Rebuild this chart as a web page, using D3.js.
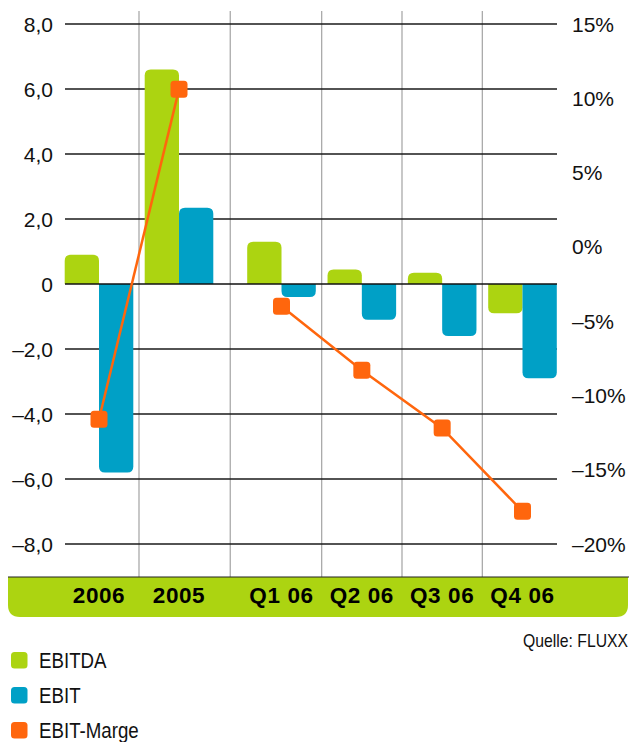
<!DOCTYPE html>
<html>
<head>
<meta charset="utf-8">
<script src="https://cdn.jsdelivr.net/npm/d3@7"></script>
<style>
  html, body { margin: 0; padding: 0; background: #fff; }
  svg { display: block; }
</style>
</head>
<body>
<svg id="chart" width="629" height="742"></svg>
<script>
// ---- data ----
const categories = ["2006", "2005", "Q1 06", "Q2 06", "Q3 06", "Q4 06"];
const periodType = ["year", "year", "quarter", "quarter", "quarter", "quarter"];
const ebitda = [0.9, 6.6, 1.3, 0.45, 0.35, -0.9];
const ebit = [-5.8, 2.35, -0.4, -1.1, -1.6, -2.9];
const ebitMarge = [-11.6, 10.6, -4.0, -8.3, -12.2, -17.8];
const leftTicks = [-8, -6, -4, -2, 0, 2, 4, 6, 8];
const rightTicks = [-20, -15, -10, -5, 0, 5, 10, 15];
const seriesNames = ["EBITDA", "EBIT", "EBIT-Marge"];
const source = "Quelle: FLUXX";

// ---- styles ----
const GREEN = "#acd411", BLUE = "#00a0c6", ORANGE = "#ff660d";
const FONT = "'Liberation Sans', Arial, Helvetica, sans-serif";
const NARROW = "'Liberation Sans Narrow', 'Liberation Sans', Arial, sans-serif";
const svg = d3.select("#chart");

const plotLeft = 65, plotRight = 557, plotTop = 24, plotBottom = 544;
const y = d3.scaleLinear().domain([-8, 8]).range([plotBottom, plotTop]);
const yR = d3.scaleLinear().domain([-20, 15]).range([plotBottom, plotTop]);
// group centres: years, then a wider gap, then the quarters
const x = d3.scaleLinear().domain([0, 1, 2, 5]).range([99, 179, 281.5, 522.5]);
const barW = 34.3;

// vertical separators
const seps = d3.range(categories.length - 1).map(i => x(i + 0.5));
svg.append("g").selectAll("line").data(seps).join("line")
  .attr("x1", d => d).attr("x2", d => d)
  .attr("y1", 11).attr("y2", 577)
  .attr("stroke", "#aaaaaa").attr("stroke-width", 1.3);

// horizontal gridlines
svg.append("g").selectAll("line").data(leftTicks.filter(d => d !== 0)).join("line")
  .attr("x1", plotLeft).attr("x2", plotRight)
  .attr("y1", d => y(d)).attr("y2", d => y(d))
  .attr("stroke", "#1a1a1a").attr("stroke-width", 1.4);

// left axis labels
const fmtL = d => d === 0 ? "0" : (d < 0 ? "\u2013" : "") + Math.abs(d).toFixed(1).replace(".", ",");
svg.append("g").selectAll("text").data(leftTicks).join("text")
  .attr("x", 53).attr("y", d => y(d)).attr("dy", "0.36em")
  .attr("text-anchor", "end")
  .style("font-family", FONT).attr("font-size", 21)
  .attr("fill", "#111").text(fmtL);

// right axis labels
const fmtR = d => (d < 0 ? "\u2013" : "") + Math.abs(d) + "%";
svg.append("g").selectAll("text").data(rightTicks).join("text")
  .attr("x", 572).attr("y", d => yR(d)).attr("dy", "0.36em")
  .attr("text-anchor", "start")
  .style("font-family", FONT).attr("font-size", 21)
  .attr("fill", "#111").text(fmtR);

// bars with rounded far end
function barPath(x0, w, v) {
  const y0 = y(0), y1 = y(v);
  const h = Math.abs(y1 - y0);
  const r = Math.min(6, h, w / 2);
  if (v >= 0) {
    return `M${x0},${y0} V${y1 + r} Q${x0},${y1} ${x0 + r},${y1} H${x0 + w - r} Q${x0 + w},${y1} ${x0 + w},${y1 + r} V${y0} Z`;
  } else {
    return `M${x0},${y0} V${y1 - r} Q${x0},${y1} ${x0 + r},${y1} H${x0 + w - r} Q${x0 + w},${y1} ${x0 + w},${y1 - r} V${y0} Z`;
  }
}
svg.append("g").selectAll("path").data(ebitda).join("path")
  .attr("d", (d, i) => barPath(x(i) - barW, barW, d)).attr("fill", GREEN);
svg.append("g").selectAll("path").data(ebit).join("path")
  .attr("d", (d, i) => barPath(x(i), barW, d)).attr("fill", BLUE);

// zero line
svg.append("line").attr("x1", plotLeft).attr("x2", plotRight)
  .attr("y1", y(0)).attr("y2", y(0)).attr("stroke", "#111").attr("stroke-width", 1.4);

// EBIT-Marge line: separate segments for years and quarters
const pts = ebitMarge.map((v, i) => ({ i, v, t: periodType[i] }));
const groups = d3.groups(pts, d => d.t).map(g => g[1]);
const line = d3.line().x(d => x(d.i)).y(d => yR(d.v));
svg.append("g").selectAll("path").data(groups).join("path")
  .attr("d", line)
  .attr("fill", "none").attr("stroke", ORANGE).attr("stroke-width", 2.5);
const mk = 17;
svg.append("g").selectAll("rect").data(pts).join("rect")
  .attr("x", d => x(d.i) - mk / 2).attr("y", d => yR(d.v) - mk / 2)
  .attr("width", mk).attr("height", mk).attr("rx", 3.5).attr("fill", ORANGE);

// category band
const bandTop = 577, bandBottom = 617, bandL = 8, bandR = 628, br = 12;
svg.append("path")
  .attr("d", `M${bandL},${bandTop} H${bandR} V${bandBottom - br} Q${bandR},${bandBottom} ${bandR - br},${bandBottom} H${bandL + br} Q${bandL},${bandBottom} ${bandL},${bandBottom - br} Z`)
  .attr("fill", GREEN);
svg.append("line").attr("x1", bandL).attr("x2", bandR + 1)
  .attr("y1", bandTop).attr("y2", bandTop).attr("stroke", "#222").attr("stroke-width", 1.2);
svg.append("g").selectAll("text").data(categories).join("text")
  .attr("x", (d, i) => x(i)).attr("y", 602.5)
  .attr("text-anchor", "middle")
  .style("font-family", FONT).attr("font-weight", "bold")
  .style("letter-spacing", "0.6px")
  .attr("font-size", 22.5).attr("fill", "#000").text(d => d);

// source (condensed)
svg.append("text").attr("transform", "translate(628,647) scale(0.9,1)").attr("text-anchor", "end")
  .style("font-family", NARROW)
  .attr("font-size", 17.5).attr("fill", "#111").text(source);

// legend (condensed text)
const legColors = [GREEN, BLUE, ORANGE];
const leg = svg.append("g").selectAll("g").data(seriesNames).join("g")
  .attr("transform", (d, i) => `translate(0,${660.5 + i * 35})`);
leg.append("rect").attr("x", 11).attr("y", -8.5).attr("width", 16.5).attr("height", 16.5)
  .attr("rx", 3.5).attr("fill", (d, i) => legColors[i]);
leg.append("text").attr("transform", "translate(39,0) scale(0.85,1)").attr("dy", "0.36em")
  .style("font-family", NARROW)
  .attr("font-size", 22).attr("fill", "#111").text(d => d);
</script>
</body>
</html>
